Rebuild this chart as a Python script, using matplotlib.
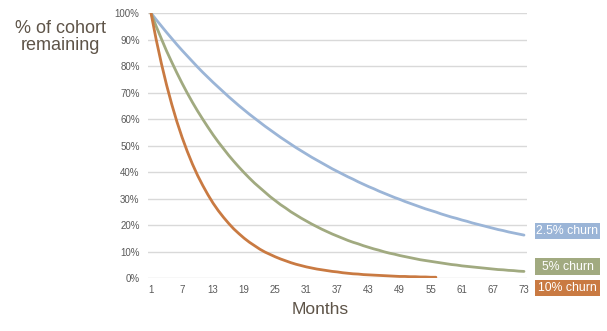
import matplotlib
matplotlib.use("Agg")
import matplotlib.pyplot as plt
from matplotlib.patches import Rectangle

# Share of the starting cohort still active, by month (percent)
months = list(range(1, 74))

churn_2_5 = [
    100.0, 97.5, 95.1, 92.7, 90.4, 88.1, 85.9, 83.8, 81.7, 79.6,
    77.6, 75.7, 73.8, 72.0, 70.2, 68.4, 66.7, 65.0, 63.4, 61.8,
    60.3, 58.8, 57.3, 55.9, 54.5, 53.1, 51.8, 50.5, 49.2, 48.0,
    46.8, 45.6, 44.5, 43.4, 42.3, 41.2, 40.2, 39.2, 38.2, 37.3,
    36.3, 35.4, 34.5, 33.7, 32.8, 32.0, 31.2, 30.4, 29.7, 28.9,
    28.2, 27.5, 26.8, 26.1, 25.5, 24.9, 24.2, 23.6, 23.0, 22.5,
    21.9, 21.4, 20.8, 20.3, 19.8, 19.3, 18.8, 18.3, 17.9, 17.4,
    17.0, 16.6, 16.2,
]

churn_5 = [
    100.0, 95.0, 90.3, 85.7, 81.5, 77.4, 73.5, 69.8, 66.3, 63.0,
    59.9, 56.9, 54.0, 51.3, 48.8, 46.3, 44.0, 41.8, 39.7, 37.7,
    35.8, 34.1, 32.4, 30.7, 29.2, 27.7, 26.4, 25.0, 23.8, 22.6,
    21.5, 20.4, 19.4, 18.4, 17.5, 16.6, 15.8, 15.0, 14.2, 13.5,
    12.9, 12.2, 11.6, 11.0, 10.5, 9.9, 9.4, 9.0, 8.5, 8.1,
    7.7, 7.3, 6.9, 6.6, 6.3, 6.0, 5.7, 5.4, 5.1, 4.9,
    4.6, 4.4, 4.2, 4.0, 3.8, 3.6, 3.4, 3.2, 3.1, 2.9,
    2.8, 2.6, 2.5,
]

churn_10 = [
    100.0, 90.0, 81.0, 72.9, 65.6, 59.0, 53.1, 47.8, 43.0, 38.7,
    34.9, 31.4, 28.2, 25.4, 22.9, 20.6, 18.5, 16.7, 15.0, 13.5,
    12.2, 10.9, 9.8, 8.9, 8.0, 7.2, 6.5, 5.8, 5.2, 4.7,
    4.2, 3.8, 3.4, 3.1, 2.8, 2.5, 2.3, 2.0, 1.8, 1.6,
    1.5, 1.3, 1.2, 1.1, 1.0, 0.9, 0.8, 0.7, 0.6, 0.6,
    0.5, 0.5, 0.4, 0.4, 0.3, 0.3,
]

series = [
    ("2.5% churn", churn_2_5, "#9bb5d7"),
    ("5% churn", churn_5, "#a1aa80"),
    ("10% churn", churn_10, "#c97a42"),
]

x_ticks = list(range(1, 74, 6))
y_ticks = list(range(0, 101, 10))

text_color = "#5e5448"
tick_color = "#595959"

plt.rcParams["font.family"] = ["Liberation Sans", "DejaVu Sans"]

W, H = 607, 331
fig = plt.figure(figsize=(W / 100, H / 100), dpi=100)
ax = fig.add_axes([0.2438, 0.160, 0.6244, 0.8007])

for name, vals, color in series:
    ax.plot(months[:len(vals)], vals, color=color, lw=2.0,
            solid_capstyle="round", zorder=3)

ax.set_xlim(0.42, 73.58)
ax.set_ylim(0, 100)
ax.set_xticks(x_ticks)
ax.set_yticks(y_ticks)
ax.set_yticklabels([f"{v}%" for v in y_ticks])
ax.grid(axis="y", color="#d9d9d9", lw=1.0)
ax.set_axisbelow(True)
for s in ax.spines.values():
    s.set_visible(False)
ax.tick_params(length=0, labelsize=7, colors=tick_color)
ax.tick_params(axis="x", pad=5)
ax.tick_params(axis="y", pad=6)

fig.text(0.099, 0.888, "% of cohort\nremaining", ha="center", va="center",
         fontsize=13, color=text_color, linespacing=1.05)
fig.text(0.527, 0.065, "Months", ha="center", va="center",
         fontsize=12.5, color=text_color)

# churn-rate tags at the right end of each curve (pixel boxes: y_top, y_bottom)
tags = [
    ("2.5% churn", 223, 239, "#9bb5d7"),
    ("5% churn", 258, 275, "#a1aa80"),
    ("10% churn", 280, 296, "#c97a42"),
]
box_x0, box_x1 = 535, 600
for label, top, bottom, color in tags:
    fig.patches.append(Rectangle(
        (box_x0 / W, 1 - bottom / H), (box_x1 - box_x0) / W,
        (bottom - top) / H, transform=fig.transFigure,
        fc=color, ec="none"))
    fig.text((box_x0 + box_x1) / 2 / W, 1 - (top + bottom) / 2 / H, label,
             ha="center", va="center", fontsize=8.8, color="white")

fig.savefig("out.png", dpi=100)
